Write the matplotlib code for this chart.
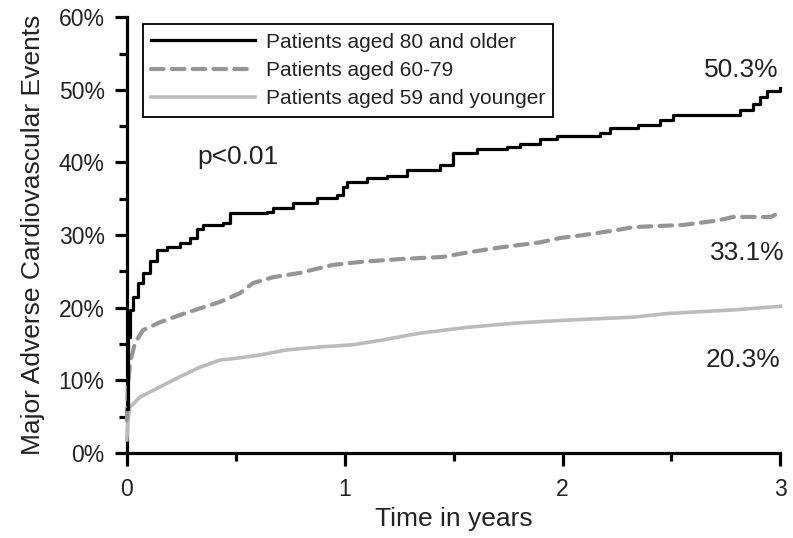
import numpy as np
import matplotlib.pyplot as plt
from matplotlib.ticker import MultipleLocator, FuncFormatter

plt.rcParams['font.family'] = ['Liberation Sans', 'DejaVu Sans']

# Kaplan-Meier style cumulative event curves (years, % with events)
t_old = [0.0, 0.005, 0.014, 0.028, 0.05, 0.073, 0.106, 0.138, 0.184, 0.243, 0.289, 0.322,
         0.349, 0.441, 0.473, 0.643, 0.671, 0.763, 0.873, 0.965, 0.992, 1.011, 1.102,
         1.194, 1.286, 1.438, 1.497, 1.608, 1.746, 1.805, 1.897, 1.975, 2.173, 2.219,
         2.347, 2.448, 2.508, 2.770, 2.816, 2.876, 2.908, 2.940, 3.0]
y_old = [6.0, 16.0, 19.7, 21.5, 23.4, 24.8, 26.5, 27.9, 28.3, 28.9, 29.6, 30.9,
         31.4, 31.6, 33.0, 33.2, 33.8, 34.4, 35.1, 35.5, 36.6, 37.3, 37.8,
         38.2, 38.9, 39.6, 41.3, 41.8, 42.1, 42.6, 43.3, 43.7, 44.0, 44.7,
         45.1, 45.8, 46.5, 46.5, 47.2, 48.1, 49.0, 49.9, 50.3]

t_mid = [0.0, 0.005, 0.014, 0.037, 0.073, 0.152, 0.243, 0.335, 0.427, 0.519, 0.579, 0.671,
         0.795, 0.946, 1.07, 1.254, 1.452, 1.562, 1.713, 1.897, 1.989, 2.095, 2.251,
         2.324, 2.554, 2.71, 2.784, 2.954, 3.0]
y_mid = [4.5, 9.0, 12.4, 15.1, 16.9, 18.0, 19.0, 19.9, 20.8, 22.0, 23.4, 24.2,
         24.8, 25.9, 26.3, 26.7, 27.0, 27.6, 28.3, 29.0, 29.6, 30.0, 30.7,
         31.1, 31.4, 32.0, 32.5, 32.5, 33.1]

t_young = [0.0, 0.005, 0.014, 0.06, 0.152, 0.243, 0.335, 0.427, 0.519, 0.611, 0.735, 0.887,
           1.038, 1.162, 1.346, 1.562, 1.792, 2.021, 2.324, 2.48, 2.784, 3.0]
y_young = [1.8, 4.5, 6.3, 7.7, 9.1, 10.5, 11.8, 12.8, 13.1, 13.5, 14.2, 14.6,
           14.9, 15.5, 16.5, 17.3, 17.9, 18.3, 18.7, 19.2, 19.7, 20.2]

labels = ['Patients aged 80 and older', 'Patients aged 60-79', 'Patients aged 59 and younger']

fig = plt.figure(figsize=(7.93, 5.38), dpi=100)
ax = fig.add_axes([0.160, 0.158, 0.824, 0.810])

ax.plot(t_young, y_young, color='#bbbbbb', lw=2.6, label=labels[2],
        zorder=3, clip_on=False)
ax.plot(t_mid, y_mid, color='#959595', lw=3.0, dashes=(3, 2),
        dash_capstyle='round', label=labels[1], zorder=4, clip_on=False)
ax.step(t_old, y_old, where='post', color='black', lw=2.3, label=labels[0],
        zorder=5, clip_on=False)

ax.set_xlim(0, 3)
ax.set_ylim(0, 60)

for s in ['top', 'right']:
    ax.spines[s].set_visible(False)
for s in ['left', 'bottom']:
    ax.spines[s].set_linewidth(2.3)

ax.xaxis.set_major_locator(MultipleLocator(1))
ax.xaxis.set_minor_locator(MultipleLocator(0.5))
ax.yaxis.set_major_locator(MultipleLocator(10))
ax.yaxis.set_minor_locator(MultipleLocator(5))
ax.yaxis.set_major_formatter(FuncFormatter(lambda v, p: f'{v:.0f}%'))

ax.tick_params(which='major', length=9, width=2.3, labelsize=16.5,
               colors='black', labelcolor='#222222')
ax.tick_params(which='minor', length=6, width=2.3)
ax.tick_params(axis='y', which='major', pad=7)
ax.tick_params(axis='x', which='major', pad=9)

ax.set_xlabel('Time in years', fontsize=19, color='#222222', labelpad=4)
ax.set_ylabel('Major Adverse Cardiovascular Events', fontsize=19,
              color='#222222', labelpad=10)

ax.text(0.51, 40.7, 'p<0.01', fontsize=19, color='#222222', ha='center', va='center')
ax.text(2.99, 52.7, '50.3%', fontsize=19, color='#222222', ha='right', va='center')
ax.text(3.02, 27.5, '33.1%', fontsize=19, color='#222222', ha='right', va='center')
ax.text(3.0, 12.8, '20.3%', fontsize=19, color='#222222', ha='right', va='center')

h, l = ax.get_legend_handles_labels()
order = [2, 1, 0]
leg = ax.legend([h[i] for i in order], [l[i] for i in order],
                loc='upper left', bbox_to_anchor=(0.0245, 0.984), borderaxespad=0,
                fontsize=15, handlelength=5, handletextpad=0.5, labelspacing=0.45,
                fancybox=False, framealpha=1, edgecolor='black', borderpad=0.4)
leg.get_frame().set_linewidth(1.3)
for t in leg.get_texts():
    t.set_color('#222222')

fig.savefig('out.png', dpi=100)
